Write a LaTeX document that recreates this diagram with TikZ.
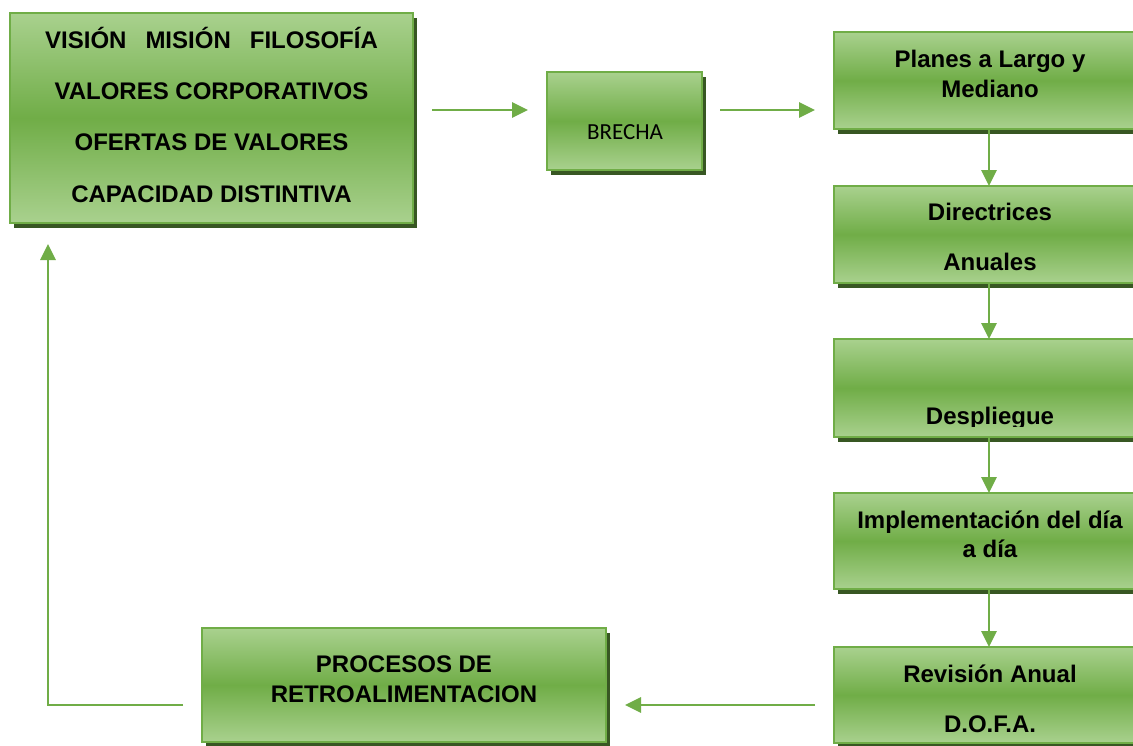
\documentclass[tikz,border=0pt]{standalone}
\usepackage{fontspec}
\setmainfont{Liberation Sans}
\newfontfamily\calibfont{Carlito}
\usetikzlibrary{arrows.meta,shadows}
\definecolor{gLight}{HTML}{A9D18E}
\definecolor{gMid}{HTML}{70AD47}
\definecolor{gEdge}{HTML}{70AD47}
\definecolor{gShadow}{HTML}{385723}
\definecolor{gArrow}{HTML}{70AD47}
\begin{document}
\begin{tikzpicture}[x=1pt,y=-1pt,
  box/.style={rectangle, draw=gEdge, line width=1.5pt,
    top color=gLight, bottom color=gLight, middle color=gMid,
    drop shadow={shadow xshift=4pt, shadow yshift=-5pt, fill=gShadow, opacity=1},
    inner sep=0pt, outer sep=0pt},
  txt/.style={font=\bfseries\fontsize{24}{28}\selectfont, inner sep=0pt, anchor=base, text=black},
  arr/.style={draw=gArrow, line width=2.8pt, -{Triangle[length=16pt,width=15pt]}}]
\clip (0,0) rectangle (1133,745);
\fill[white] (0,0) rectangle (1133,745);

% boxes
\node[box, minimum width=403pt, minimum height=210pt] (vis) at (211.5,118) {};
\node[box, minimum width=155pt, minimum height=98pt] (bre) at (624.5,121) {};
\node[box, minimum width=312pt, minimum height=97pt] (plan) at (990,80.5) {};
\node[box, minimum width=312pt, minimum height=97pt] (dir) at (990,234.5) {};
\node[box, minimum width=312pt, minimum height=98pt] (desp) at (990,388) {};
\node[box, minimum width=312pt, minimum height=96pt] (impl) at (990,541) {};
\node[box, minimum width=312pt, minimum height=96pt] (rev) at (990,695) {};
\node[box, minimum width=404pt, minimum height=114pt] (proc) at (404,685) {};

% texts
\node[txt] (vis1) at (211.5,48) {VISIÓN\hspace{19pt}MISIÓN\hspace{19pt}FILOSOFÍA};
\node[txt] (vis2) at (211.5,99) {VALORES CORPORATIVOS};
\node[txt] (vis3) at (211.5,150) {OFERTAS DE VALORES};
\node[txt] (vis4) at (211.5,202) {CAPACIDAD DISTINTIVA};
\node[txt, font=\calibfont\fontsize{23}{28}\selectfont] (bre1) at (625,139) {BRECHA};
\node[txt] (plan1) at (990,67) {Planes a Largo y};
\node[txt] (plan2) at (990,97) {Mediano};
\node[txt] (dir1) at (990,220) {Directrices};
\node[txt] (dir2) at (990,270) {Anuales};
\begin{scope}
  \clip (desp.north west) rectangle ([yshift=11pt]desp.south east);
  \node[txt] (desp1) at (990,424) {Despliegue};
\end{scope}
\node[txt] (impl1) at (990,528.5) {Implementación del día};
\node[txt] (impl2) at (990,557) {a día};
\node[txt] (rev1) at (990,682) {Revisión Anual};
\node[txt] (rev2) at (990,732) {D.O.F.A.};
\node[txt] (proc1) at (404,672) {PROCESOS DE};
\node[txt] (proc2) at (404,702) {RETROALIMENTACION};

% connectors
\draw[arr, shorten <=19pt, shorten >=19pt] ([yshift=8pt]vis.east) -- ([yshift=8pt]vis.east -| bre.west);
\draw[arr, shorten <=18pt, shorten >=19pt] ([yshift=11pt]bre.east) -- ([yshift=11pt]bre.east -| plan.west);
\draw[arr] ([xshift=-1pt]plan.south) -- ([xshift=-1pt]dir.north);
\draw[arr] ([xshift=-1pt]dir.south) -- ([xshift=-1pt]desp.north);
\draw[arr] ([xshift=-1pt]desp.south) -- ([xshift=-1pt]impl.north);
\draw[arr] ([xshift=-1pt]impl.south) -- ([xshift=-1pt]rev.north);
\draw[arr, shorten <=19pt, shorten >=19pt] ([yshift=-10pt]rev.west) -- ([yshift=-10pt]rev.west -| proc.east);
\draw[arr, shorten <=19pt, shorten >=21pt] ([yshift=-20pt]proc.west) -| ([xshift=38pt]vis.south west);
\end{tikzpicture}
\end{document}
